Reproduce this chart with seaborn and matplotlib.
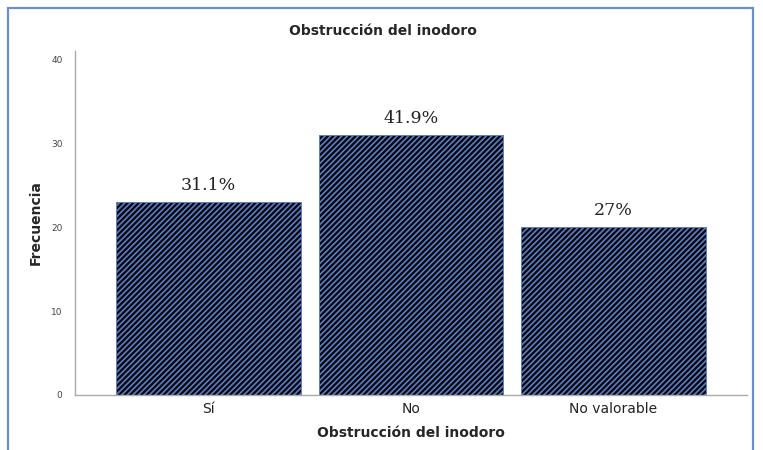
import matplotlib
matplotlib.use('Agg')
import matplotlib.pyplot as plt
import seaborn as sns
import pandas as pd
from matplotlib.patches import Rectangle

categories = ['Sí', 'No', 'No valorable']
counts = [23, 31, 20]
labels = ['31.1%', '41.9%', '27%']
y_ticks = [0, 10, 20, 30, 40]

sns.set_style('white')
plt.rcParams['font.family'] = ['DejaVu Sans']
plt.rcParams['hatch.linewidth'] = 1.2

df = pd.DataFrame({'cat': categories, 'n': counts})

fig = plt.figure(figsize=(7.63, 4.5), dpi=100)
ax = fig.add_axes([75 / 763, 55 / 450, 672 / 763, 344 / 450])

sns.barplot(data=df, x='cat', y='n', color='black', width=0.91,
            edgecolor='#5a7fc4', linewidth=0.6, ax=ax, saturation=1)
for p in ax.patches:
    p.set_facecolor('#05050c')
    p.set_hatch('//////')
    if hasattr(p, 'set_hatchcolor'):
        p.set_hatchcolor('#5a7fc4')

for p, lab in zip(ax.patches, labels):
    ax.text(p.get_x() + p.get_width() / 2, p.get_height() + 1.0, lab,
            ha='center', va='bottom', fontsize=12.5, family='DejaVu Serif',
            color='#222222')

ax.set_xlim(-0.66, 2.66)
ax.set_ylim(0, 41)
ax.set_yticks(y_ticks)
ax.tick_params(axis='y', labelsize=6.5, colors='#444444', length=0, pad=9)
ax.tick_params(axis='x', labelsize=10, colors='#222222', length=0, pad=5)

for s in ['top', 'right']:
    ax.spines[s].set_visible(False)
for s in ['left', 'bottom']:
    ax.spines[s].set_color('#aaaaaa')
    ax.spines[s].set_linewidth(1.0)

ax.set_xlabel('Obstrucción del inodoro', fontsize=10, fontweight='bold', labelpad=7)
ax.set_ylabel('Frecuencia', fontsize=10, fontweight='bold', labelpad=6)
fig.text(383 / 763, 1 - 31 / 450, 'Obstrucción del inodoro', ha='center',
         va='center', fontsize=10, fontweight='bold')

# blue frame around the chart
frame = Rectangle((8 / 763, -0.05), 745 / 763, 1.05 - 8 / 450, transform=fig.transFigure,
                  fill=False, edgecolor='#6a8fcf', linewidth=1.6)
fig.patches.append(frame)

fig.savefig('out.png', dpi=100)
